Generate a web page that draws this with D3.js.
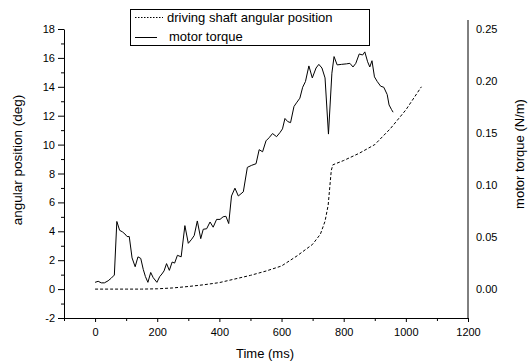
<!DOCTYPE html>
<html>
<head>
<meta charset="utf-8">
<script src="https://cdn.jsdelivr.net/npm/d3@7"></script>
<style>
  body { margin: 0; background: #fff; }
  svg text { font-family: Arial, "Liberation Sans", sans-serif; fill: #000; }
</style>
</head>
<body>
<figure id="chart" style="margin:0"></figure>
<script>
// driving shaft angular position (deg) vs time (ms)
const posTime = [0, 50, 100, 150, 200, 250, 300, 350, 400, 450, 500, 550, 600, 650, 700, 725, 740, 750, 755, 760, 765, 800, 850, 900, 950, 1000, 1050];
const posDeg  = [0, 0, 0, 0, 0.02, 0.08, 0.18, 0.3, 0.45, 0.7, 0.95, 1.25, 1.6, 2.3, 3.1, 3.8, 4.7, 5.8, 7.0, 8.2, 8.6, 8.9, 9.4, 10.0, 11.1, 12.4, 14.0];

// motor torque (N/m) vs time (ms)
const torqueTime = [0, 10, 20, 30, 42, 52, 62, 70, 79, 88, 96, 103, 110, 119, 129, 138, 147, 155, 162, 170,
  179, 187, 199, 208, 215, 222, 230, 239, 248, 256, 265, 277, 289, 300, 311, 319, 329, 340, 348, 359,
  370, 380, 391, 402, 412, 421, 430, 439, 450, 461, 477, 490, 504, 518, 528, 539, 550, 560, 571, 584,
  595, 603, 611, 620, 629, 640, 648, 659, 668, 677, 688, 699, 711, 720, 730, 740, 751, 762, 769, 779,
  793, 809, 820, 830, 839, 850, 861, 868, 877, 884, 891, 899, 908, 919, 929, 940, 946, 954, 959];
const torqueVal = [0.0065, 0.0075, 0.006, 0.006, 0.008, 0.0105, 0.0135, 0.065, 0.0565, 0.055, 0.053, 0.0505, 0.0505, 0.030, 0.0215, 0.031, 0.0295, 0.019, 0.012, 0.0065,
  0.016, 0.011, 0.0065, 0.012, 0.0145, 0.0175, 0.0245, 0.018, 0.026, 0.025, 0.0325, 0.031, 0.061, 0.044, 0.048, 0.0515, 0.0655, 0.0485, 0.0575, 0.058,
  0.0645, 0.0595, 0.067, 0.067, 0.0695, 0.070, 0.063, 0.0895, 0.097, 0.0895, 0.0935, 0.117, 0.119, 0.1205, 0.134, 0.132, 0.1425, 0.1455, 0.1495, 0.1465,
  0.1505, 0.154, 0.164, 0.161, 0.160, 0.1755, 0.179, 0.1835, 0.194, 0.1995, 0.2145, 0.203, 0.2125, 0.216, 0.2125, 0.203, 0.149, 0.2075, 0.2235, 0.2155,
  0.216, 0.2165, 0.217, 0.2135, 0.217, 0.226, 0.225, 0.228, 0.2185, 0.2135, 0.2195, 0.204, 0.1995, 0.195, 0.194, 0.187, 0.177, 0.1725, 0.170];

const xTicks = [0, 200, 400, 600, 800, 1000, 1200];
const leftTicks = [-2, 0, 2, 4, 6, 8, 10, 12, 14, 16, 18];
const rightTicks = [0, 0.05, 0.10, 0.15, 0.20, 0.25];
const legendLabels = ["driving shaft angular position", "motor torque"];

const width = 528, height = 362;
const plot = { left: 64, right: 468, top: 29, bottom: 318 };

const svg = d3.select("figure#chart")
  .append("svg")
  .attr("width", width)
  .attr("height", height);

// scales
const x = d3.scaleLinear().domain([-100, 1200]).range([plot.left, plot.right]);
const yLeft = d3.scaleLinear().domain([-2, 18]).range([plot.bottom, plot.top]);
const yRight = d3.scaleLinear().domain([-2 / 72, 18 / 72]).range([plot.bottom, plot.top]);

const plain = d => String(d);

// bottom axis
svg.append("g")
  .attr("transform", "translate(0," + plot.bottom + ")")
  .call(d3.axisBottom(x).tickValues(xTicks).tickSize(4).tickPadding(6).tickSizeOuter(0).tickFormat(plain));
svg.append("g")
  .attr("transform", "translate(0," + plot.bottom + ")")
  .call(d3.axisBottom(x).tickValues(d3.range(-100, 1201, 100).filter(d => d % 200 !== 0)).tickSize(3).tickFormat("").tickSizeOuter(0))
  .select(".domain").remove();

// left axis, major + minor
svg.append("g")
  .attr("transform", "translate(" + plot.left + ",0)")
  .call(d3.axisLeft(yLeft).tickValues(leftTicks).tickSize(6).tickPadding(3).tickSizeOuter(0).tickFormat(plain));
svg.append("g")
  .attr("transform", "translate(" + plot.left + ",0)")
  .call(d3.axisLeft(yLeft).tickValues(d3.range(-1, 18, 2)).tickSize(3).tickFormat("").tickSizeOuter(0))
  .select(".domain").remove();

// right axis: labels only
const rightAxis = svg.append("g")
  .attr("transform", "translate(" + plot.right + ",0)")
  .call(d3.axisRight(yRight).tickValues(rightTicks).tickSize(0).tickPadding(8).tickFormat(d3.format(".2f")));
rightAxis.select(".domain").attr("d", "M0," + (plot.top - 9) + "V" + plot.bottom);

svg.selectAll(".domain, .tick line").attr("stroke", "#000").attr("stroke-width", 1);
svg.selectAll(".tick text").style("font-size", "11px");

// axis titles
svg.append("text")
  .attr("x", 265).attr("y", 358)
  .attr("text-anchor", "middle")
  .style("font-size", "13px")
  .text("Time (ms)");

svg.append("text")
  .attr("transform", "translate(22,160)rotate(-90)")
  .attr("text-anchor", "middle")
  .style("font-size", "13.5px")
  .text("angular position (deg)");

svg.append("text")
  .attr("transform", "translate(524,154)rotate(-90)")
  .attr("text-anchor", "middle")
  .style("font-size", "13px")
  .text("motor torque (N/m)");

// lines
const posLine = d3.line()
  .x((d, i) => x(posTime[i]))
  .y(d => yLeft(d));

svg.append("path")
  .datum(posDeg)
  .attr("d", posLine)
  .attr("fill", "none")
  .attr("stroke", "#000")
  .attr("stroke-width", 1)
  .attr("stroke-dasharray", "3,2");

const torqueLine = d3.line()
  .x((d, i) => x(torqueTime[i]))
  .y(d => yRight(d));

svg.append("path")
  .datum(torqueVal)
  .attr("d", torqueLine)
  .attr("fill", "none")
  .attr("stroke", "#000")
  .attr("stroke-width", 1);

// legend
const legend = svg.append("g");
legend.append("rect")
  .attr("x", 130.5).attr("y", 9.5)
  .attr("width", 239).attr("height", 36)
  .attr("fill", "#fff").attr("stroke", "#000");

legend.append("line")
  .attr("x1", 135).attr("x2", 163).attr("y1", 17.5).attr("y2", 17.5)
  .attr("stroke", "#000").attr("stroke-dasharray", "1.5,1.5");
legend.append("text")
  .attr("x", 167).attr("y", 22)
  .style("font-size", "13px")
  .text(legendLabels[0]);

legend.append("line")
  .attr("x1", 135).attr("x2", 157).attr("y1", 37.5).attr("y2", 37.5)
  .attr("stroke", "#000");
legend.append("text")
  .attr("x", 169).attr("y", 41)
  .style("font-size", "13px")
  .text(legendLabels[1]);
</script>
</body>
</html>
